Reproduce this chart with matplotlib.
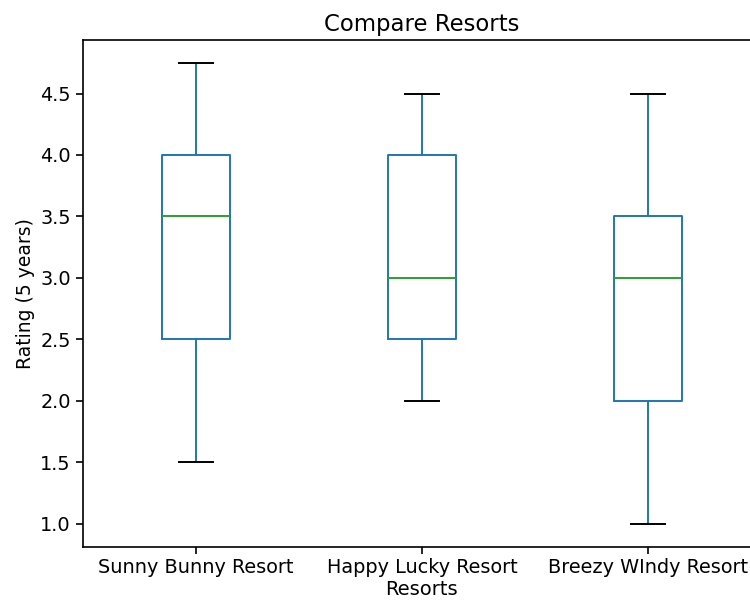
import matplotlib.pyplot as plt

# five-number summary per resort (ratings over 5 years)
resorts = ['Sunny Bunny Resort', 'Happy Lucky Resort', 'Breezy WIndy Resort']
lows = [1.5, 2.0, 1.0]
q1s = [2.5, 2.5, 2.0]
medians = [3.5, 3.0, 3.0]
q3s = [4.0, 4.0, 3.5]
highs = [4.75, 4.5, 4.5]

stats = []
for name, lo, q1, med, q3, hi in zip(resorts, lows, q1s, medians, q3s, highs):
    stats.append({'label': name, 'whislo': lo, 'q1': q1, 'med': med,
                  'q3': q3, 'whishi': hi, 'fliers': []})

fig = plt.figure(figsize=(7.5, 6.03), dpi=100)
ax = fig.add_axes([0.110, 0.0935, 0.905, 0.8405])

lw = 1.4
ax.bxp(stats, showfliers=False,
       boxprops=dict(color='#1f77b4', linewidth=lw),
       whiskerprops=dict(color='#1f77b4', linewidth=lw),
       medianprops=dict(color='#2ca02c', linewidth=lw),
       capprops=dict(color='black', linewidth=lw))

ax.set_title('Compare Resorts', fontsize=16.4)
ax.set_xlabel('Resorts', fontsize=14, labelpad=2)
ax.set_ylabel('Rating (5 years)', fontsize=13.5)
ax.tick_params(labelsize=13.9, width=1.2, length=5)
for s in ax.spines.values():
    s.set_linewidth(1.2)

fig.savefig('out.png', dpi=100)
